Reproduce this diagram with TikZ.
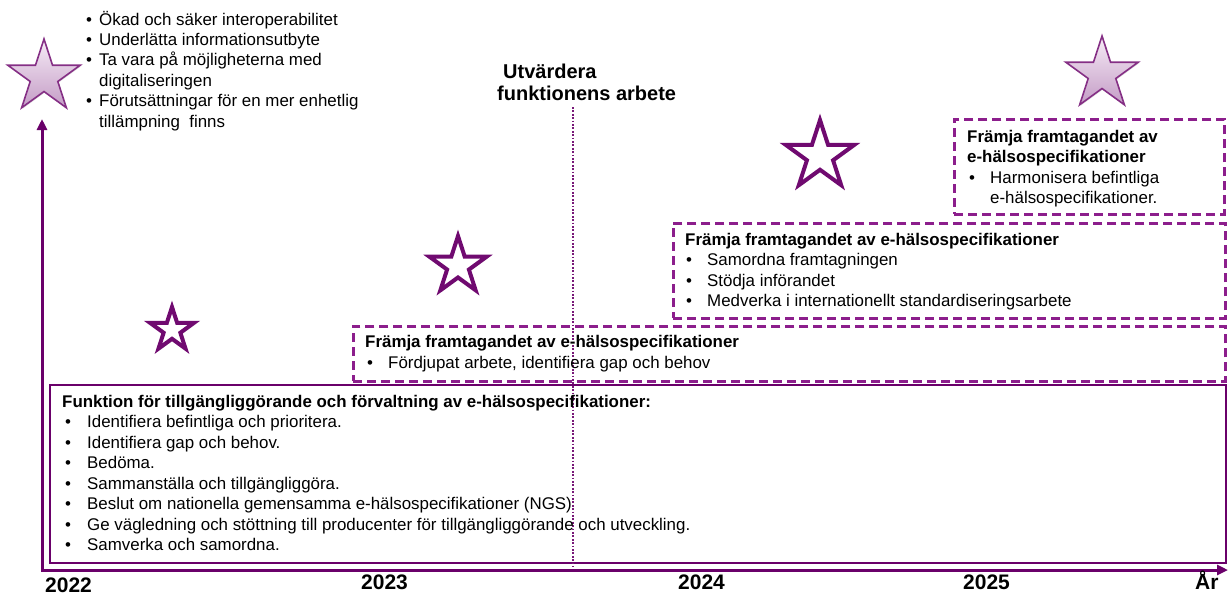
\documentclass[tikz,border=0pt]{standalone}
\usepackage{fontspec}
\setmainfont{Liberation Sans}
\usetikzlibrary{shapes.geometric,arrows.meta,shadows}

\definecolor{axispurple}{RGB}{106,0,106}
\definecolor{dashpurple}{RGB}{140,30,140}
\definecolor{starline}{RGB}{112,10,112}
\definecolor{starfilltop}{RGB}{246,236,246}
\definecolor{starfillbot}{RGB}{196,156,198}

\begin{document}
\begin{tikzpicture}[x=1pt,y=-1pt,
  txt/.style={font=\fontsize{16.9}{20}\selectfont, inner sep=0, anchor=base west},
  hd/.style={font=\fontsize{16.9}{20}\selectfont\bfseries, inner sep=0, anchor=base west},
  yr/.style={font=\fontsize{21}{24}\selectfont\bfseries, inner sep=0, anchor=base west},
  ttl/.style={font=\fontsize{20}{24}\selectfont\bfseries, inner sep=0, anchor=base west},
  framebox/.style={draw=axispurple, line width=2pt, inner sep=0, anchor=north west},
  phase/.style={draw=dashpurple, line width=2.5pt, dash pattern=on 9pt off 5pt, inner sep=0, anchor=north west},
  axisline/.style={draw=axispurple, line width=3pt},
  milestone/.style={draw=axispurple!90, line width=2.4pt, dash pattern=on 1.8pt off 1.6pt},
  openstar/.style={star, star points=5, star point ratio=2.618, inner sep=0,
    draw=starline, line width=4pt, fill=white, line join=miter,
    drop shadow={shadow xshift=1.5pt, shadow yshift=-1.5pt, opacity=0.25, fill=black!60}},
  goalstar/.style={star, star points=5, star point ratio=2.618, inner sep=0,
    draw=starline!85, line width=1.6pt, top color=starfilltop, bottom color=starfillbot,
    drop shadow={shadow xshift=1pt, shadow yshift=-1pt, opacity=0.2, fill=black!60}},
]
\useasboundingbox (0,0) rectangle (1230,595);

% --- phase boxes ---
\node[framebox, minimum width=1176pt, minimum height=178pt] (func) at (49,384) {};
\node[phase, minimum width=872pt, minimum height=55pt] (ph1) at (352,325) {};
\node[phase, minimum width=552pt, minimum height=95pt] (ph2) at (672,222) {};
\node[phase, minimum width=270pt, minimum height=95pt] (ph3) at (953,118) {};

% --- time axis ---
\coordinate (O) at (42,570);
\coordinate (ytip) at (42,119);
\coordinate (xtip) at (1228,570);
\draw[axisline, {Triangle[length=11pt,width=10pt]}-{Triangle[length=11pt,width=10pt]}] (ytip) -- (O) -- (xtip);

% --- evaluation milestone ---
\coordinate (evtop) at (573,107);
\coordinate (evbot) at (573,567);
\draw[milestone] (evtop) -- (evbot);
\node[ttl] (eval1) at (503,78) {Utvärdera};
\node[ttl] (eval2) at (497,100) {funktionens arbete};

% --- stars ---
\node[goalstar, minimum size=76pt] (star1) at (44,77) {};
\node[openstar, minimum size=46pt] (star2) at (172,330) {};
\node[openstar, minimum size=60pt] (star3) at (458,266) {};
\node[openstar, minimum size=72pt] (star4) at (820,156) {};
\node[goalstar, minimum size=76pt] (star5) at (1102,74) {};

% --- goals ---
\foreach \s [count=\i from 0] in {Ökad och säker interoperabilitet, Underlätta informationsutbyte,
  Ta vara på möjligheterna med, digitaliseringen, Förutsättningar för en mer enhetlig, tillämpning\ \ finns}
  \node[txt] (goal\i) at (99,25+20.4*\i) {\s};
\foreach \i in {0,1,2,4}
  \node[txt] (goalb\i) at (86,25+20.4*\i) {•};

% --- function box text ---
\node[hd] (funct) at (62,407) {Funktion för tillgängliggörande och förvaltning av e-hälsospecifikationer:};
\foreach \s [count=\i from 1] in {Identifiera befintliga och prioritera., Identifiera gap och behov., Bedöma.,
  Sammanställa och tillgängliggöra., Beslut om nationella gemensamma e-hälsospecifikationer (NGS),
  Ge vägledning och stöttning till producenter för tillgängliggörande och utveckling., Samverka och samordna.}
{
  \node[txt] (funcb\i) at (65,407+20.5*\i) {•};
  \node[txt] (func\i) at (87,407+20.5*\i) {\s};
}

% --- phase 1 text ---
\node[hd] (ph1t) at (365,347) {Främja framtagandet av e-hälsospecifikationer};
\node[txt] (ph1b) at (367,368) {•};
\node[txt] (ph1a) at (388,368) {Fördjupat arbete, identifiera gap och behov};

% --- phase 2 text ---
\node[hd] (ph2t) at (685,245) {Främja framtagandet av e-hälsospecifikationer};
\foreach \s [count=\i from 1] in {Samordna framtagningen, Stödja införandet, Medverka i internationellt standardiseringsarbete}
{
  \node[txt] (ph2b\i) at (686,245+20.5*\i) {•};
  \node[txt] (ph2a\i) at (707,245+20.5*\i) {\s};
}

% --- phase 3 text ---
\node[hd] (ph3t1) at (967,142) {Främja framtagandet av};
\node[hd] (ph3t2) at (967,162) {e-hälsospecifikationer};
\node[txt] (ph3b) at (969,183) {•};
\node[txt] (ph3a1) at (990,183) {Harmonisera befintliga};
\node[txt] (ph3a2) at (990,203) {e-hälsospecifikationer.};

% --- years ---
\node[yr] (y2022) at (45,592) {2022};
\node[yr] (y2023) at (361,589) {2023};
\node[yr] (y2024) at (678,589) {2024};
\node[yr] (y2025) at (963,589) {2025};
\node[yr] (yar) at (1195,589) {År};
\end{tikzpicture}
\end{document}
